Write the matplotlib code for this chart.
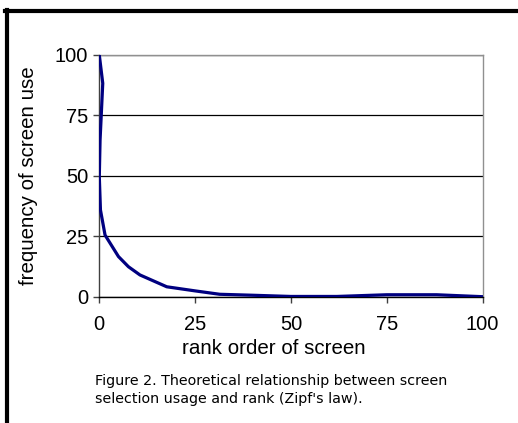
import matplotlib
matplotlib.use("Agg")
import matplotlib.pyplot as plt
from matplotlib.lines import Line2D

# values (rank order vs frequency)
rank = [0, 0.9, 0.2, 0.0, 0.3, 1.5, 5, 7.6, 10.6, 17.6, 25, 31.4, 40, 50, 62, 75, 88, 100]
freq = [100, 88.3, 64.8, 49.7, 35.9, 25.5, 16.6, 12.4, 9.0, 4.1, 2.4, 1.0, 0.6, 0.1, 0.1, 0.8, 0.8, 0.0]

x_ticks = [0, 25, 50, 75, 100]
y_ticks = [0, 25, 50, 75, 100]

plt.rcParams["font.family"] = ["Liberation Sans", "DejaVu Sans"]

fig = plt.figure(figsize=(5.18, 4.23), dpi=100)
ax = fig.add_axes([0.1917, 0.2986, 0.740, 0.5714])

ax.plot(rank, freq, color="#000080", linewidth=2.3, solid_joinstyle="round", zorder=3)

ax.set_xlim(0, 100)
ax.set_ylim(0, 100)
ax.set_xticks(x_ticks)
ax.set_yticks(y_ticks)
ax.tick_params(labelsize=14.5, length=4, width=1, color="#404040", pad=4)
ax.tick_params(axis="x", pad=9)
ax.grid(True, axis="y", color="black", linewidth=0.9)
ax.set_axisbelow(True)

ax.spines["top"].set_color("#909090")
ax.spines["right"].set_color("#909090")
ax.spines["left"].set_color("#404040")
ax.spines["bottom"].set_color("black")
for s in ax.spines.values():
    s.set_linewidth(1.0)

ax.set_ylabel("frequency of screen use", fontsize=14.8, labelpad=12)
fig.text(274 / 518, 1 - 349 / 423, "rank order of screen", fontsize=14.8,
         ha="center", va="center")

caption = ("Figure 2. Theoretical relationship between screen\n"
           "selection usage and rank (Zipf's law).")
fig.text(95 / 518, 1 - 390 / 423, caption, fontsize=10.3, family="DejaVu Sans",
         ha="left", va="center", linespacing=1.4)

# black frame on top and left
fig.add_artist(Line2D([5 / 518, 1.0], [1 - 11.5 / 423] * 2, color="black",
                      linewidth=3, transform=fig.transFigure))
fig.add_artist(Line2D([7 / 518] * 2, [0, 1 - 10 / 423], color="black",
                      linewidth=3, transform=fig.transFigure))

fig.savefig("out.png", dpi=100)
